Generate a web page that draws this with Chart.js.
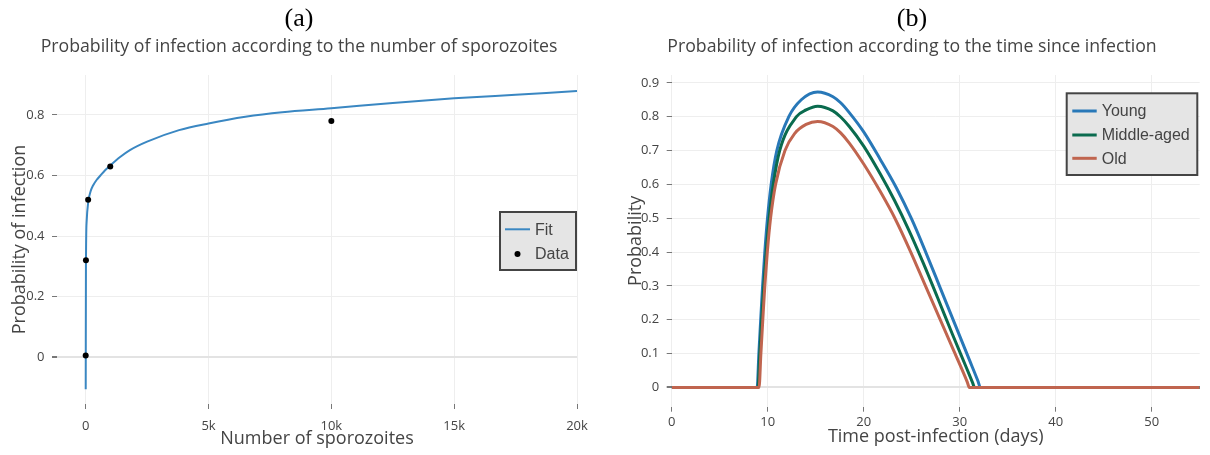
<!DOCTYPE html>
<html>
<head>
<meta charset="utf-8">
<script src="https://cdn.jsdelivr.net/npm/chart.js"></script>
<style>
  body { margin: 0; background: #fff; }
  #wrap { position: relative; width: 1210px; height: 455px; }
  canvas { position: absolute; top: 0; }
  #chartA { left: 0; }
  #chartB { left: 605px; }
</style>
</head>
<body>
<div id="wrap">
  <canvas id="chartA" width="605" height="455"></canvas>
  <canvas id="chartB" width="605" height="455"></canvas>
</div>
<script>
// panel (a): fitted curve and observed points
const fitX = [1, 10, 40, 100, 200, 300, 450, 600, 800, 1000, 1400, 1800, 2500, 3800, 5000, 6500, 8000, 10000, 12500, 15000, 17500, 20000];
const fitY = [-0.106, 0.30, 0.45, 0.51, 0.548, 0.567, 0.586, 0.60, 0.618, 0.633, 0.661, 0.684, 0.712, 0.75, 0.772, 0.794, 0.809, 0.822, 0.84, 0.855, 0.867, 0.879];
const dataX = [0, 10, 100, 1000, 10000];
const dataY = [0.005, 0.32, 0.52, 0.63, 0.78];
const xTicksA = [0, 5000, 10000, 15000, 20000];
const xLabelsA = ["0", "5k", "10k", "15k", "20k"];
const yTicksA = [0, 0.2, 0.4, 0.6, 0.8];
const yLabelsA = ["0", "0.2", "0.4", "0.6", "0.8"];

// panel (b): probability by age group over days
const youngDays = [0, 8.9, 9.08, 9.27, 9.47, 9.7, 9.98, 10.36, 10.95, 12.2, 13.5, 15.2, 16.8, 17.6, 18.5, 20, 21.7, 23.4, 25.0, 26.5, 28.0, 29.5, 31.0, 31.9, 32.15, 55];
const youngProb = [0, 0, 0.1, 0.2, 0.3, 0.4, 0.5, 0.6, 0.7, 0.8, 0.85, 0.873, 0.859, 0.841, 0.812, 0.755, 0.675, 0.59, 0.497, 0.397, 0.292, 0.187, 0.082, 0.019, 0, 0];
const middleDays = [0, 8.98, 9.17, 9.37, 9.59, 9.84, 10.15, 10.58, 11.25, 13.0, 14.0, 15.2, 16.8, 17.6, 18.5, 20, 21.7, 23.2, 24.7, 26.2, 27.7, 29.2, 30.7, 31.35, 31.55, 55];
const middleProb = [0, 0, 0.1, 0.2, 0.3, 0.4, 0.5, 0.6, 0.7, 0.8, 0.82, 0.831, 0.817, 0.799, 0.771, 0.713, 0.632, 0.553, 0.465, 0.368, 0.265, 0.16, 0.058, 0.0135, 0, 0];
const oldDays = [0, 9.1, 9.29, 9.49, 9.7, 9.96, 10.3, 10.82, 11.8, 12.8, 14.0, 15.2, 16.8, 17.6, 18.5, 20, 21.7, 23.3, 24.9, 26.4, 27.9, 29.4, 30.8, 31.0, 55];
const oldProb = [0, 0, 0.1, 0.2, 0.3, 0.4, 0.5, 0.6, 0.7, 0.75, 0.777, 0.786, 0.771, 0.752, 0.722, 0.66, 0.58, 0.497, 0.4, 0.302, 0.205, 0.107, 0.015, 0, 0];
const xTicksB = [0, 10, 20, 30, 40, 50];
const yTicksB = [0, 0.1, 0.2, 0.3, 0.4, 0.5, 0.6, 0.7, 0.8, 0.9];

const toPoints = (xs, ys) => xs.map((x, i) => ({ x: x, y: ys[i] }));

const grey = "#444";
const sans = "'Open Sans', 'DejaVu Sans', sans-serif";

// plotly-like boxed legend, drawn from the dataset labels
const boxLegend = {
  id: "boxLegend",
  afterDraw(chart, args, opts) {
    const ctx = chart.ctx;
    ctx.save();
    ctx.fillStyle = "#e5e5e5";
    ctx.fillRect(opts.x, opts.y, opts.w, opts.h);
    ctx.lineWidth = 2;
    ctx.strokeStyle = "#444";
    ctx.strokeRect(opts.x, opts.y, opts.w, opts.h);
    ctx.font = "16px 'Liberation Sans', Arial, sans-serif";
    ctx.textBaseline = "middle";
    chart.data.datasets.forEach((ds, i) => {
      const cy = opts.rows[i];
      if (ds.showLine === false) {
        ctx.fillStyle = ds.pointBackgroundColor;
        ctx.beginPath();
        ctx.arc((opts.x1 + opts.x2) / 2, cy, 3, 0, Math.PI * 2);
        ctx.fill();
      } else {
        ctx.strokeStyle = ds.borderColor;
        ctx.lineWidth = ds.borderWidth;
        ctx.beginPath();
        ctx.moveTo(opts.x1, cy);
        ctx.lineTo(opts.x2, cy);
        ctx.stroke();
      }
      ctx.fillStyle = grey;
      ctx.fillText(ds.label, opts.textX, cy + 1);
    });
    ctx.restore();
  }
};

function gridColor(c) {
  return c.tick && c.tick.value === 0 ? "#e3e3e3" : "#eeeeee";
}
function gridWidth(c) {
  return c.tick && c.tick.value === 0 ? 2 : 1;
}

function makeOptions(cfg) {
  return {
    responsive: false,
    animation: false,
    devicePixelRatio: 1,
    layout: { padding: { left: cfg.padLeft, right: cfg.padRight, top: 0, bottom: 0 } },
    plugins: {
      legend: { display: false },
      tooltip: { enabled: false },
      title: {
        display: true,
        text: cfg.tag,
        color: "#000",
        font: { family: "'Liberation Serif', 'DejaVu Serif', serif", size: 26, weight: "normal" },
        padding: { top: 4, bottom: 0 }
      },
      subtitle: {
        display: true,
        text: cfg.title,
        color: grey,
        font: { family: sans, size: 17.7 },
        padding: { top: 1.2, bottom: 17.4 }
      },
      boxLegend: cfg.legend
    },
    scales: {
      x: {
        type: "linear",
        min: cfg.xMin,
        max: cfg.xMax,
        afterFit: (s) => { s.height = cfg.xHeight; },
        afterBuildTicks: (s) => { s.ticks = cfg.xTicks.map(v => ({ value: v })); },
        ticks: {
          color: grey,
          font: { family: sans, size: 13 },
          padding: cfg.xTickPad,
          maxRotation: 0,
          autoSkip: false,
          callback: (v, i) => cfg.xLabels[i]
        },
        grid: { color: "#eeeeee", tickColor: "#777", tickLength: 5 },
        border: { display: false },
        title: {
          display: true,
          text: cfg.xTitle,
          color: grey,
          font: { family: sans, size: 18 },
          padding: { top: 0, bottom: cfg.xTitlePad }
        }
      },
      y: {
        type: "linear",
        min: cfg.yMin,
        max: cfg.yMax,
        afterFit: (s) => { s.width = cfg.yWidth; },
        afterBuildTicks: (s) => { s.ticks = cfg.yTicks.map(v => ({ value: v })); },
        ticks: {
          color: grey,
          font: { family: sans, size: 13 },
          padding: 7.5,
          autoSkip: false,
          callback: (v, i) => cfg.yLabels[i]
        },
        grid: { color: gridColor, lineWidth: gridWidth, tickColor: "#777", tickLength: 5 },
        border: { display: false },
        title: {
          display: true,
          text: cfg.yTitle,
          color: grey,
          font: { family: sans, size: 18 },
          padding: { top: cfg.yTitlePad, bottom: 0 }
        }
      }
    }
  };
}

new Chart(document.getElementById("chartA"), {
  type: "line",
  data: {
    datasets: [
      {
        label: "Fit",
        data: toPoints(fitX, fitY),
        borderColor: "#3a87c2",
        borderWidth: 2,
        pointRadius: 0,
        cubicInterpolationMode: "monotone",
        fill: false,
        order: 1
      },
      {
        label: "Data",
        data: toPoints(dataX, dataY),
        showLine: false,
        pointRadius: 3,
        pointBackgroundColor: "#000",
        pointBorderWidth: 0,
        order: 0
      }
    ]
  },
  options: makeOptions({
    tag: "(a)",
    title: "Probability of infection according to the number of sporozoites",
    padLeft: 21, padRight: 28,
    xMin: -1168, xMax: 20000, xHeight: 51, xTickPad: 9.4, xTitlePad: 5.7,
    xTicks: xTicksA, xLabels: xLabelsA,
    xTitle: "Number of sporozoites",
    yMin: -0.155, yMax: 0.932, yWidth: 36,
    yTicks: yTicksA, yLabels: yLabelsA,
    yTitle: "Probability of infection", yTitlePad: -12.3,
    legend: { x: 500, y: 212, w: 76, h: 58, rows: [229.3, 254], x1: 505, x2: 530, textX: 535 }
  }),
  plugins: [boxLegend]
});

new Chart(document.getElementById("chartB"), {
  type: "line",
  data: {
    datasets: [
      { label: "Young", data: toPoints(youngDays, youngProb), borderColor: "#2878b8", order: 2 },
      { label: "Middle-aged", data: toPoints(middleDays, middleProb), borderColor: "#0a6b4e", order: 1 },
      { label: "Old", data: toPoints(oldDays, oldProb), borderColor: "#c0654f", order: 0 }
    ].map(ds => Object.assign(ds, {
      borderWidth: 3,
      pointRadius: 0,
      cubicInterpolationMode: "monotone",
      fill: false
    }))
  },
  options: makeOptions({
    tag: "(b)",
    title: "Probability of infection according to the time since infection",
    padLeft: 19.3, padRight: 10.3,
    xMin: 0, xMax: 55, xHeight: 48.3, xTickPad: 3, xTitlePad: 7.2,
    xTicks: xTicksB, xLabels: xTicksB.map(String),
    xTitle: "Time post-infection (days)",
    yMin: -0.057, yMax: 0.923, yWidth: 47.4,
    yTicks: yTicksB, yLabels: yTicksB.map(String),
    yTitle: "Probability", yTitlePad: 0.9,
    legend: { x: 461.7, y: 93.3, w: 130.6, h: 81.7, rows: [111, 135, 158.3], x1: 467.3, x2: 491.7, textX: 496.7 }
  }),
  plugins: [boxLegend]
});
</script>
</body>
</html>
